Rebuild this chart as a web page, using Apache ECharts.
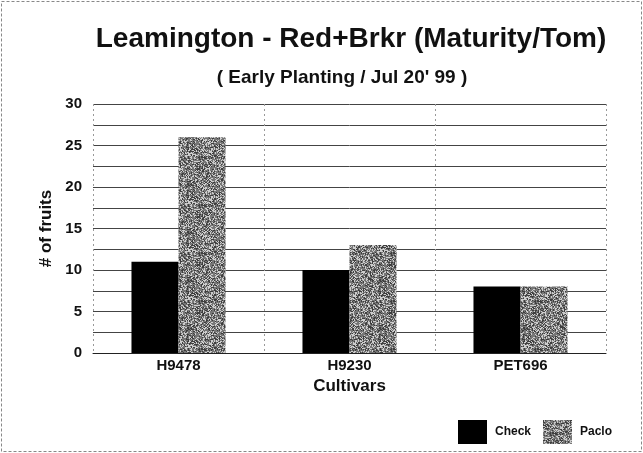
<!DOCTYPE html>
<html>
<head>
<meta charset="utf-8">
<script src="https://cdn.jsdelivr.net/npm/echarts@6/dist/echarts.min.js"></script>
<style>
  html, body { margin: 0; padding: 0; background: #fff; }
  #chart { width: 643px; height: 453px; }
</style>
</head>
<body>
<div id="chart"></div>
<script>
var cultivars = ['H9478', 'H9230', 'PET696'];
var checkValues = [11, 10, 8];
var pacloValues = [26, 13, 8];

// grainy grey fill for the Paclo bars (fixed hash, no randomness)
function grainPattern() {
  var c = document.createElement('canvas');
  c.width = 48; c.height = 48;
  var ctx = c.getContext('2d');
  var img = ctx.createImageData(48, 48);
  for (var y = 0; y < 48; y++) {
    for (var x = 0; x < 48; x++) {
      var h = Math.sin(x * 12.9898 + y * 78.233) * 43758.5453;
      h = h - Math.floor(h);
      var v = h > 0.72 ? 205 : (h > 0.25 ? 118 : 62);
      var i = (y * 48 + x) * 4;
      img.data[i] = v; img.data[i + 1] = v; img.data[i + 2] = v; img.data[i + 3] = 255;
    }
  }
  ctx.putImageData(img, 0, 0);
  return c;
}
var grain = { image: grainPattern(), repeat: 'repeat' };

var chart = echarts.init(document.getElementById('chart'));
chart.setOption({
  animation: false,
  backgroundColor: '#fff',
  textStyle: { fontFamily: 'Liberation Sans, Arial, sans-serif' },
  title: [{
    text: 'Leamington - Red+Brkr (Maturity/Tom)',
    left: 346, top: 20, textAlign: 'center',
    textStyle: { fontSize: 28, fontWeight: 'bold', color: '#111' }
  }, {
    text: '( Early Planting / Jul 20\' 99 )',
    left: 337, top: 63, textAlign: 'center',
    textStyle: { fontSize: 19, fontWeight: 'bold', color: '#111' }
  }],
  graphic: [{
    type: 'rect',
    shape: { x: 1.5, y: 1.5, width: 640, height: 450 },
    style: { fill: 'none', stroke: '#888', lineWidth: 1, lineDash: [3, 2] }
  }],
  legend: {
    left: 453, top: 415,
    icon: 'rect',
    itemWidth: 29, itemHeight: 24, itemGap: 12,
    textStyle: { fontSize: 12, fontWeight: 'bold', color: '#111', padding: [0, 0, 0, 3] },
    data: ['Check', 'Paclo']
  },
  grid: { left: 93, right: 37, top: 104, bottom: 100 },
  xAxis: {
    type: 'category',
    data: cultivars,
    name: 'Cultivars',
    nameLocation: 'middle',
    nameGap: 25,
    nameTextStyle: { fontSize: 17, fontWeight: 'bold', color: '#111' },
    axisLine: { lineStyle: { color: '#222', width: 1 } },
    axisTick: { show: false },
    axisLabel: { fontSize: 15, fontWeight: 'bold', color: '#111', margin: 5 },
    splitLine: { show: true, lineStyle: { color: '#999', type: [2, 3] } }
  },
  yAxis: {
    type: 'value',
    min: 0, max: 30, interval: 5,
    name: '# of fruits',
    nameLocation: 'middle',
    nameGap: 38,
    nameTextStyle: { fontSize: 17, fontWeight: 'bold', color: '#111' },
    axisLine: { show: false },
    axisTick: { show: false },
    axisLabel: { fontSize: 15, fontWeight: 'bold', color: '#111', margin: 11 },
    splitLine: { lineStyle: { color: '#444', width: 1 } },
    minorTick: { show: false, splitNumber: 2 },
    minorSplitLine: { show: true, lineStyle: { color: '#444', width: 1 } }
  },
  series: [{
    name: 'Check',
    type: 'bar',
    data: checkValues,
    barGap: '0%',
    barCategoryGap: '45%',
    itemStyle: { color: '#000' }
  }, {
    name: 'Paclo',
    type: 'bar',
    data: pacloValues,
    itemStyle: { color: grain }
  }]
});
</script>
</body>
</html>
